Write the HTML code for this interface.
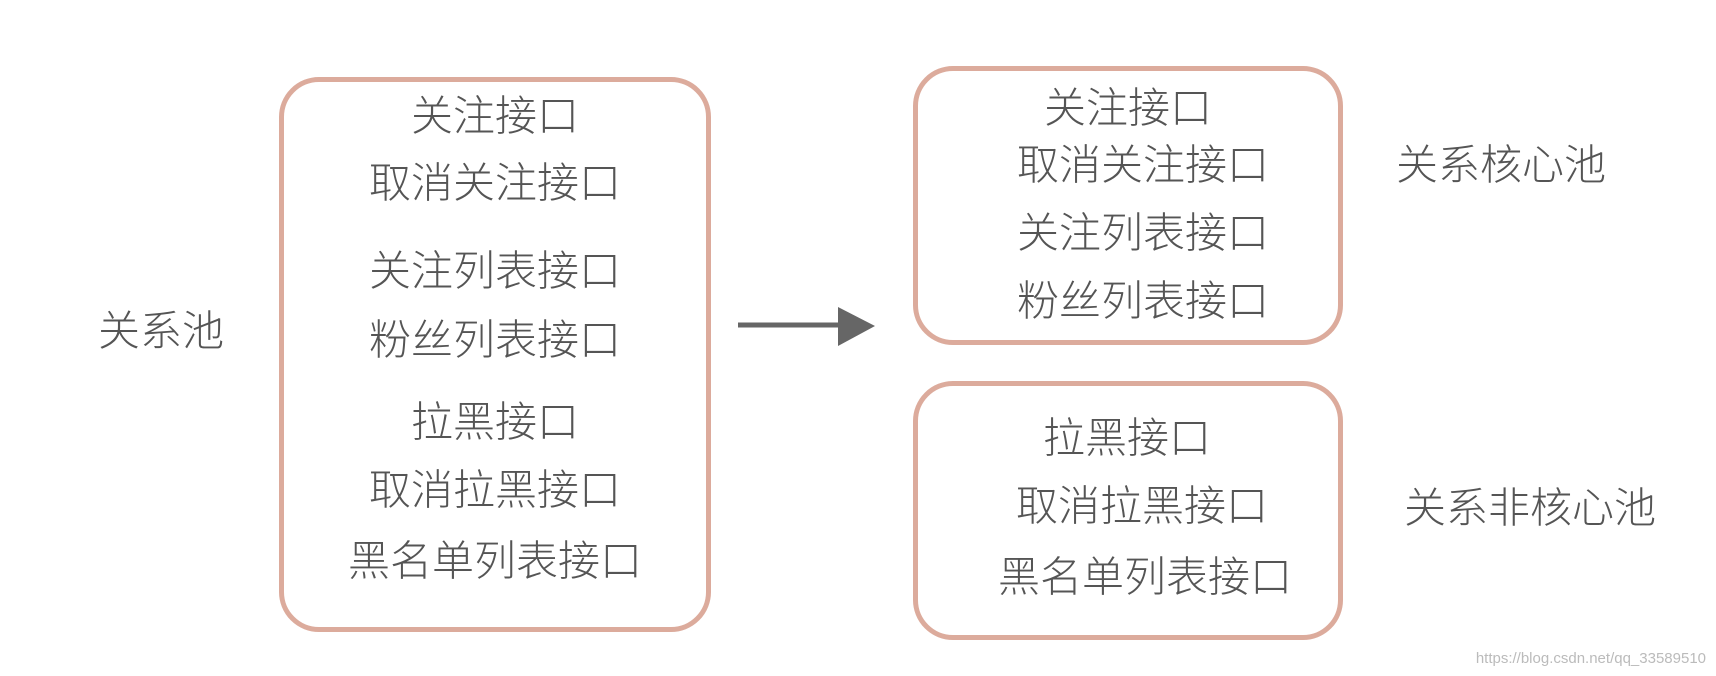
<!DOCTYPE html>
<html><head><meta charset="utf-8"><style>
body{margin:0;width:1716px;height:676px;background:#fff;position:relative;overflow:hidden;font-family:"Liberation Sans","Noto Sans CJK SC",sans-serif;color:#555}
.box{position:absolute;border:5px solid #dcab9c;border-radius:40px;box-sizing:border-box}
.t{position:absolute;font-size:42px;transform:translate(-50%,-50%);white-space:nowrap;font-weight:300}
</style></head><body>
<div class="box" style="left:279px;top:77px;width:432px;height:555px"></div>
<div class="box" style="left:913px;top:66px;width:430px;height:279px"></div>
<div class="box" style="left:913px;top:381px;width:430px;height:259px"></div>
<div class="t" style="left:161px;top:328px">关系池</div>
<div class="t" style="left:495px;top:113px">关注接口</div>
<div class="t" style="left:495px;top:180px">取消关注接口</div>
<div class="t" style="left:495px;top:268px">关注列表接口</div>
<div class="t" style="left:495px;top:337px">粉丝列表接口</div>
<div class="t" style="left:495px;top:419px">拉黑接口</div>
<div class="t" style="left:495px;top:487px">取消拉黑接口</div>
<div class="t" style="left:495px;top:558px">黑名单列表接口</div>
<div class="t" style="left:1128px;top:105px">关注接口</div>
<div class="t" style="left:1143px;top:162px">取消关注接口</div>
<div class="t" style="left:1143px;top:230px">关注列表接口</div>
<div class="t" style="left:1143px;top:298px">粉丝列表接口</div>
<div class="t" style="left:1127px;top:435px">拉黑接口</div>
<div class="t" style="left:1142px;top:503px">取消拉黑接口</div>
<div class="t" style="left:1145px;top:574px">黑名单列表接口</div>
<div class="t" style="left:1501px;top:162px">关系核心池</div>
<div class="t" style="left:1530px;top:505px">关系非核心池</div>
<svg style="position:absolute;left:0;top:0" width="1716" height="676">
<line x1="738" y1="325" x2="845" y2="325" stroke="#666" stroke-width="5"/>
<polygon points="838,307 875,326 838,346" fill="#666"/>
</svg>
<div style="position:absolute;right:10px;top:650px;font-size:15px;color:#bbb">https://blog.csdn.net/qq_33589510</div>
</body></html>
